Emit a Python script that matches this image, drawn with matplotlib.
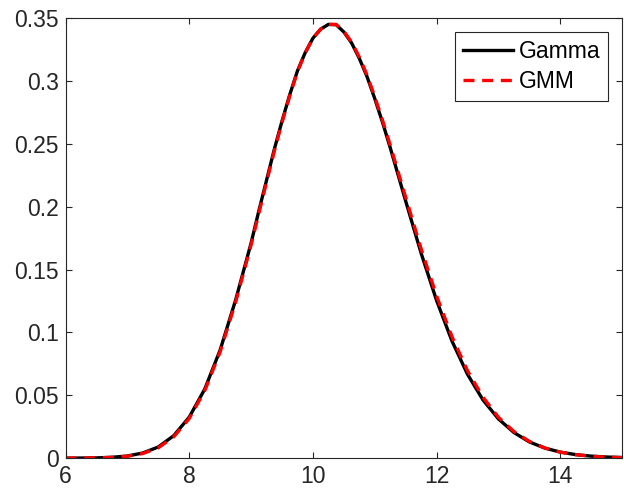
import matplotlib
matplotlib.use("Agg")
import matplotlib.pyplot as plt

# values
x_vals = [6.0, 6.25, 6.5, 6.75, 7.0, 7.25, 7.5, 7.75, 8.0, 8.25, 8.5, 8.75,
          9.0, 9.125, 9.25, 9.375, 9.5, 9.625, 9.75, 9.875, 10.0, 10.125,
          10.25, 10.375, 10.5, 10.625, 10.75, 10.875, 11.0, 11.125, 11.25,
          11.375, 11.5, 11.75, 12.0, 12.25, 12.5, 12.75, 13.0, 13.25, 13.5,
          13.75, 14.0, 14.25, 14.5, 14.75, 15.0]
gamma_pdf = [0.0000, 0.0001, 0.0002, 0.0007, 0.0017, 0.0041, 0.0089, 0.0179,
             0.0326, 0.0548, 0.0860, 0.1257, 0.1710, 0.1965, 0.2210, 0.2455,
             0.2680, 0.2890, 0.3080, 0.3225, 0.3340, 0.3412, 0.3450, 0.3448,
             0.3390, 0.3303, 0.3180, 0.3035, 0.2860, 0.2672, 0.2470, 0.2258,
             0.2045, 0.1630, 0.1254, 0.0930, 0.0667, 0.0463, 0.0312, 0.0204,
             0.0129, 0.0080, 0.0048, 0.0028, 0.0016, 0.0009, 0.0005]
gmm_pdf = [0.0000, 0.0001, 0.0002, 0.0006, 0.0015, 0.0037, 0.0082, 0.0170,
           0.0315, 0.0535, 0.0845, 0.1240, 0.1695, 0.1945, 0.2195, 0.2440,
           0.2670, 0.2880, 0.3075, 0.3222, 0.3340, 0.3413, 0.3450, 0.3450,
           0.3395, 0.3310, 0.3190, 0.3048, 0.2875, 0.2688, 0.2490, 0.2282,
           0.2075, 0.1665, 0.1290, 0.0965, 0.0695, 0.0485, 0.0325, 0.0212,
           0.0133, 0.0081, 0.0048, 0.0028, 0.0015, 0.0008, 0.0004]
x_ticks = [6, 8, 10, 12, 14]
y_ticks = [0, 0.05, 0.1, 0.15, 0.2, 0.25, 0.3, 0.35]
y_labels = ['0', '0.05', '0.1', '0.15', '0.2', '0.25', '0.3', '0.35']

plt.rcParams['font.family'] = ['Liberation Sans', 'DejaVu Sans']
axis_col = '#262626'

fig = plt.figure(figsize=(6.24, 4.9), dpi=100)
ax = fig.add_axes([0.105, 0.065, 0.892, 0.898])

ax.plot(x_vals, gamma_pdf, color='black', linewidth=2.4, label='Gamma')
ax.plot(x_vals, gmm_pdf, color='red', linewidth=2.4, linestyle=(0, (3.3, 2.3)),
        label='GMM')

ax.set_xlim(6, 15)
ax.set_ylim(0, 0.35)
ax.set_xticks(x_ticks)
ax.set_yticks(y_ticks)
ax.set_yticklabels(y_labels)
ax.tick_params(direction='in', top=True, right=True, length=4, width=0.8,
               labelsize=16.5, colors=axis_col, pad=5)
for s in ax.spines.values():
    s.set_color(axis_col)
    s.set_linewidth(0.8)

leg = ax.legend(loc='upper right', fontsize=16.5, fancybox=False,
                framealpha=1, edgecolor=axis_col, handlelength=2.2,
                handletextpad=0.25, borderpad=0.35, labelspacing=0.3,
                borderaxespad=0.6)
leg.get_frame().set_linewidth(0.8)

fig.savefig('out.png', dpi=100)
